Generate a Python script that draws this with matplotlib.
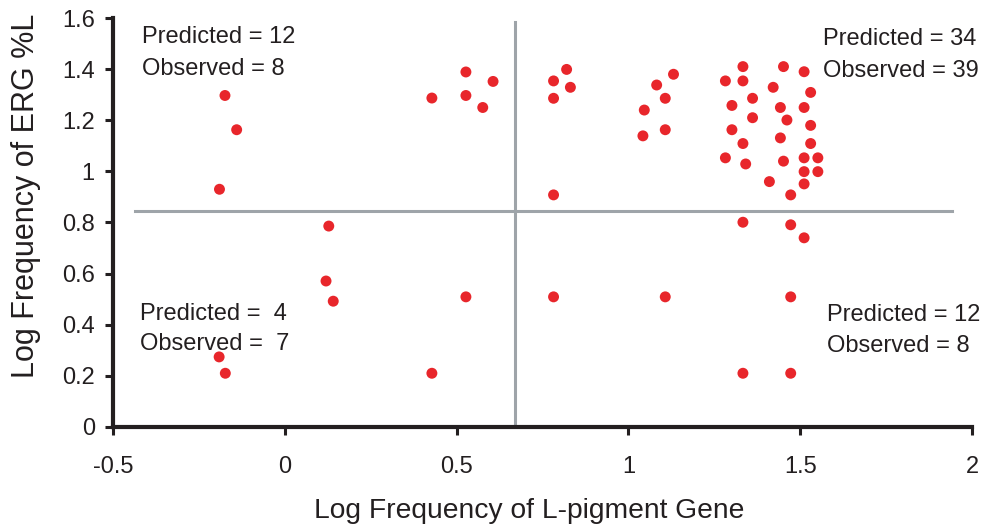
import matplotlib
matplotlib.use('Agg')
import matplotlib.pyplot as plt

plt.rcParams['font.family'] = ['Liberation Sans', 'DejaVu Sans']

# points, grouped by quadrant
x_upper_left = [-0.174, -0.140, -0.190, 0.428, 0.527, 0.527, 0.606, 0.576]
y_upper_left = [1.297, 1.163, 0.930, 1.287, 1.389, 1.297, 1.352, 1.250]

x_upper_right = [0.820, 0.782, 0.831, 0.782, 0.782,
                 1.131, 1.082, 1.107, 1.046, 1.042, 1.107,
                 1.333, 1.282, 1.333, 1.361, 1.301, 1.361, 1.301, 1.333, 1.282, 1.341,
                 1.451, 1.421, 1.442, 1.461, 1.442, 1.451, 1.410, 1.472,
                 1.511, 1.530, 1.511, 1.530, 1.530, 1.511, 1.551, 1.511, 1.551, 1.511]
y_upper_right = [1.399, 1.354, 1.329, 1.286, 0.908,
                 1.380, 1.338, 1.286, 1.240, 1.139, 1.163,
                 1.410, 1.354, 1.354, 1.286, 1.258, 1.210, 1.163, 1.109, 1.053, 1.029,
                 1.410, 1.329, 1.250, 1.201, 1.131, 1.040, 0.960, 0.908,
                 1.390, 1.309, 1.250, 1.180, 1.109, 1.053, 1.053, 0.999, 0.999, 0.951]

x_lower_left = [0.128, 0.120, 0.141, 0.527, -0.191, -0.173, 0.428]
y_lower_left = [0.786, 0.571, 0.492, 0.509, 0.274, 0.210, 0.210]

x_lower_right = [0.782, 1.107, 1.472, 1.333, 1.472, 1.511, 1.333, 1.472]
y_lower_right = [0.509, 0.509, 0.509, 0.801, 0.791, 0.740, 0.210, 0.210]

# threshold lines
x_cut = 0.670
y_cut = 0.846

xticks = [-0.5, 0, 0.5, 1, 1.5, 2]
xtick_labels = ['-0.5', '0', '0.5', '1', '1.5', '2']
yticks = [0, 0.2, 0.4, 0.6, 0.8, 1.0, 1.2, 1.4, 1.6]
ytick_labels = ['0', '0.2', '0.4', '0.6', '0.8', '1', '1.2', '1.4', '1.6']

red = '#e8262b'
grey = '#9ea4a9'
ink = '#231f20'

fig = plt.figure(figsize=(9.82, 5.31), dpi=100)
ax = fig.add_axes([0.115, 0.196, 0.875, 0.770])

ax.axhline(y_cut, xmin=(-0.437 + 0.5) / 2.5, xmax=(1.942 + 0.5) / 2.5, color=grey, lw=2.2, zorder=1)
ax.axvline(x_cut, ymin=0.015 / 1.6, ymax=1.584 / 1.6, color=grey, lw=2.2, zorder=1)

for xs, ys in [(x_upper_left, y_upper_left), (x_upper_right, y_upper_right),
               (x_lower_left, y_lower_left), (x_lower_right, y_lower_right)]:
    ax.scatter(xs, ys, s=62, color=red, edgecolors='none', zorder=3, clip_on=False)

fs = 17
ax.text(-0.416, 1.504, 'Predicted = 12', fontsize=fs, va='baseline', color=ink)
ax.text(-0.416, 1.378, 'Observed = 8', fontsize=fs, va='baseline', color=ink)
ax.text(1.567, 1.493, 'Predicted = 34', fontsize=fs, va='baseline', color=ink)
ax.text(1.567, 1.371, 'Observed = 39', fontsize=fs, va='baseline', color=ink)
ax.text(-0.421, 0.418, 'Predicted =  4', fontsize=fs, va='baseline', color=ink)
ax.text(-0.421, 0.300, 'Observed =  7', fontsize=fs, va='baseline', color=ink)
ax.text(1.578, 0.415, 'Predicted = 12', fontsize=fs, va='baseline', color=ink)
ax.text(1.578, 0.293, 'Observed = 8', fontsize=fs, va='baseline', color=ink)

ax.set_xlim(-0.5, 2)
ax.set_ylim(0, 1.6)
ax.set_xticks(xticks)
ax.set_xticklabels(xtick_labels)
ax.set_yticks(yticks)
ax.set_yticklabels(ytick_labels)

for side in ['top', 'right']:
    ax.spines[side].set_visible(False)
for side in ['left', 'bottom']:
    ax.spines[side].set_linewidth(3)
    ax.spines[side].set_color(ink)

ax.tick_params(axis='both', direction='out', length=6, width=2.2, color=ink,
               labelsize=17, labelcolor=ink)
ax.tick_params(axis='x', pad=15)
ax.tick_params(axis='y', pad=7)

ax.set_xlabel('Log Frequency of L-pigment Gene', fontsize=20.3, color=ink)
ax.set_ylabel('Log Frequency of ERG %L', fontsize=22, color=ink)
ax.xaxis.set_label_coords(0.485, -0.174)
ax.yaxis.set_label_coords(-0.084, 0.565)

fig.savefig('out.png', dpi=100)
